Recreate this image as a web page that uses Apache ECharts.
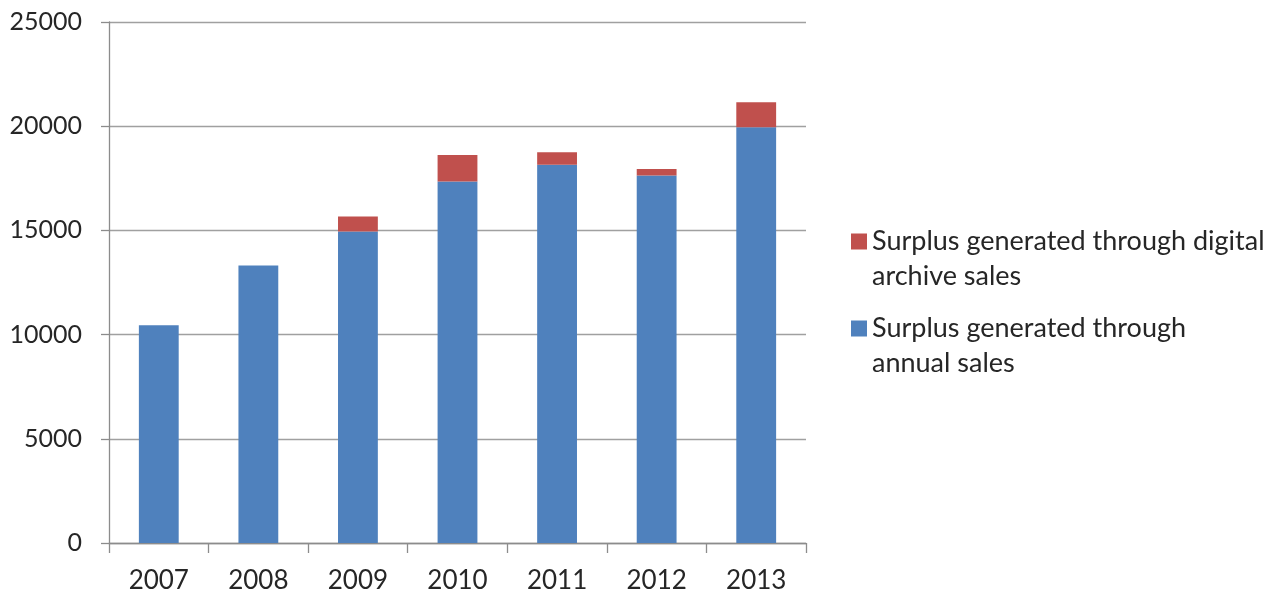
<!DOCTYPE html>
<html>
<head>
<meta charset="utf-8">
<script src="https://cdn.jsdelivr.net/npm/echarts@6/dist/echarts.min.js"></script>
<style>
  html, body { margin: 0; padding: 0; background: #ffffff; }
  #chart { width: 1281px; height: 596px; }
</style>
</head>
<body>
<div id="chart"></div>
<script>
// Surplus by year, split by source
const years = ['2007', '2008', '2009', '2010', '2011', '2012', '2013'];
const annualSales = [10450, 13320, 14950, 17350, 18150, 17630, 19950];
const digitalArchiveSales = [0, 0, 720, 1270, 600, 320, 1200];
const yTicks = { min: 0, max: 25000, interval: 5000 };

const annualName = 'Surplus generated through\nannual sales';
const digitalName = 'Surplus generated through digital\narchive sales';

const FONT = 'Lato';
const TEXT = '#262626';
const LINE = '#a0a0a0';
const LEGEND_LINE_H = 35;

// Square swatch at the top of a taller icon box, so it lines up with
// the first line of a two-line legend label.
const SWATCH = 'path://M0,0h16v16h-16z M0,50.98h0.02v0.02h-0.02z';

const chart = echarts.init(document.getElementById('chart'), null, { renderer: 'canvas' });

chart.setOption({
  backgroundColor: '#ffffff',
  animation: false,
  textStyle: { fontFamily: FONT, color: TEXT },
  grid: { left: 109, right: 475, top: 22, bottom: 53, containLabel: false },
  legend: {
    orient: 'vertical',
    left: 851,
    top: 224,
    padding: 0,
    itemWidth: 16,
    itemHeight: 51,
    itemGap: 17,
    icon: SWATCH,
    data: [digitalName, annualName],
    textStyle: {
      fontFamily: FONT,
      fontSize: 27,
      color: TEXT,
      lineHeight: LEGEND_LINE_H
    }
  },
  xAxis: {
    type: 'category',
    data: years,
    boundaryGap: true,
    axisLine: { show: true, lineStyle: { color: '#8c8c8c', width: 1.3 } },
    axisTick: { show: true, alignWithLabel: false, length: 10, lineStyle: { color: '#8c8c8c', width: 1.3 } },
    axisLabel: { fontFamily: FONT, fontSize: 26, color: TEXT, margin: 25 },
    splitLine: { show: false }
  },
  yAxis: {
    type: 'value',
    min: yTicks.min,
    max: yTicks.max,
    interval: yTicks.interval,
    axisLine: { show: true, lineStyle: { color: '#8c8c8c', width: 1.3 } },
    axisTick: { show: true, length: 8, lineStyle: { color: '#8c8c8c', width: 1.3 } },
    axisLabel: {
      fontFamily: FONT, fontSize: 25, color: TEXT, margin: 27,
      formatter: (v) => String(v)
    },
    splitLine: { show: true, lineStyle: { color: LINE, width: 1.4 } }
  },
  series: [
    {
      name: annualName,
      type: 'bar',
      stack: 'surplus',
      barWidth: '40%',
      data: annualSales,
      itemStyle: { color: '#4f81bd' }
    },
    {
      name: digitalName,
      type: 'bar',
      stack: 'surplus',
      barWidth: '40%',
      data: digitalArchiveSales,
      itemStyle: { color: '#c0504d' }
    }
  ]
});
</script>
</body>
</html>
